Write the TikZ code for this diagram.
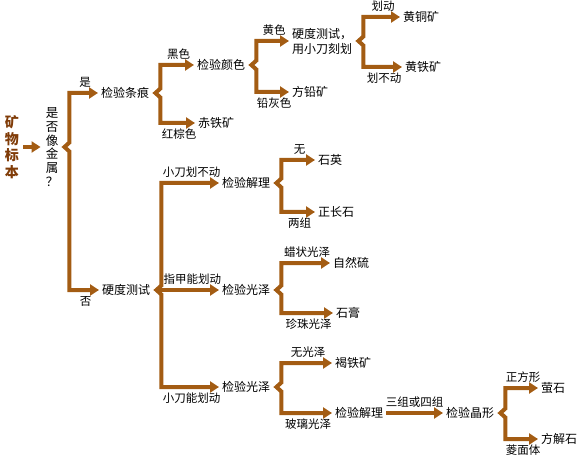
\documentclass[tikz,border=0pt]{standalone}
\usepackage{fontspec}
\setmainfont{Noto Sans CJK SC}
\usetikzlibrary{arrows.meta}

\definecolor{forkbrown}{RGB}{163,92,19}
\definecolor{titlebrown}{RGB}{128,60,8}

\tikzset{
  arr/.style={draw=forkbrown, line width=4pt, -{Triangle[length=9pt,width=11pt]}, shorten >=3pt},
  fork/.style={draw=forkbrown, line width=4pt, {Triangle[length=9pt,width=11pt]}-{Triangle[length=9pt,width=11pt]}, shorten <=3pt, shorten >=3pt},
  txt/.style={inner sep=0pt, anchor=west, font=\fontsize{12}{15}\selectfont},
  lbl/.style={inner sep=0pt, font=\fontsize{11.5}{12}\selectfont},
}

% bracket with two branches: source, upper target, upper label, lower target, lower label
\newcommand{\fork}[5]{%
  \path ([xshift=6pt]#1.east) coordinate (#1-tip);
  \draw[fork] (#2) -| ([shift={(5pt,4.5pt)}]#1-tip) node[lbl, pos=0.25, above=4pt] {#3}
    -- (#1-tip) -- ([shift={(5pt,-4.5pt)}]#1-tip) |- (#4) node[lbl, pos=0.75, below=4pt] {#5};
}

\begin{document}
\begin{tikzpicture}[x=1pt, y=-1pt]
    \useasboundingbox (0,0) rectangle (578,465);
    % start
    \node[inner sep=0pt, align=center, text=titlebrown, font=\fontsize{14}{16.5}\selectfont\bfseries] (sample) at (12,147) {矿\\物\\标\\本};
    \node[inner sep=0pt, align=center, font=\fontsize{12.5}{13.7}\selectfont] (metal) at (52,147) {是\\否\\像\\金\\属\\？};
    \draw[arr, shorten <=4pt, shorten >=5pt] (sample) -- (metal);

    % metallic
    \node[txt] (streak) at (101,93) {检验条痕};
    \node[txt] (colour) at (197,65) {检验颜色};
    \node[txt] (hematite) at (198,123) {赤铁矿};
    \node[txt, align=left] (scratch) at (292,41) {硬度测试，\\用小刀刻划};
    \node[txt] (galena) at (292,92) {方铅矿};
    \node[txt] (chalcopyrite) at (403,17) {黄铜矿};
    \node[txt] (pyrite) at (405,67) {黄铁矿};

    % non-metallic
    \node[txt] (hard) at (102,290) {硬度测试};
    \node[txt] (cleave) at (222,183) {检验解理};
    \node[txt] (lustre) at (222,290) {检验光泽};
    \node[txt] (lustreB) at (222,387) {检验光泽};
    \node[txt] (quartz) at (318,160) {石英};
    \node[txt] (orthoclase) at (318,212) {正长石};
    \node[txt] (sulfur) at (333,263) {自然硫};
    \node[txt] (gypsum) at (336,313) {石膏};
    \node[txt] (limonite) at (335,363) {褐铁矿};
    \node[txt] (cleaveB) at (335,413) {检验解理};
    \node[txt] (crystal) at (446,413) {检验晶形};
    \node[txt] (fluorite) at (541,388) {萤石};
    \node[txt] (calcite) at (541,439) {方解石};

    \fork{metal}{streak}{是}{hard}{否}
    \fork{streak}{colour}{黑色}{hematite}{红棕色}
    \fork{colour}{scratch}{黄色}{galena}{铅灰色}
    \fork{scratch}{chalcopyrite}{划动}{pyrite}{划不动}
    \fork{hard}{cleave}{小刀划不动}{lustreB}{小刀能划动}
    \draw[arr] (hard-tip) -- (lustre) node[lbl, pos=0.55, above=4pt] {指甲能划动};
    \fork{cleave}{quartz}{无}{orthoclase}{两组}
    \fork{lustre}{sulfur}{蜡状光泽}{gypsum}{珍珠光泽}
    \fork{lustreB}{limonite}{无光泽}{cleaveB}{玻璃光泽}
    \draw[arr, shorten <=3pt] (cleaveB) -- (crystal) node[lbl, midway, above=4pt] {三组或四组};
    \fork{crystal}{fluorite}{正方形}{calcite}{菱面体}
\end{tikzpicture}
\end{document}
